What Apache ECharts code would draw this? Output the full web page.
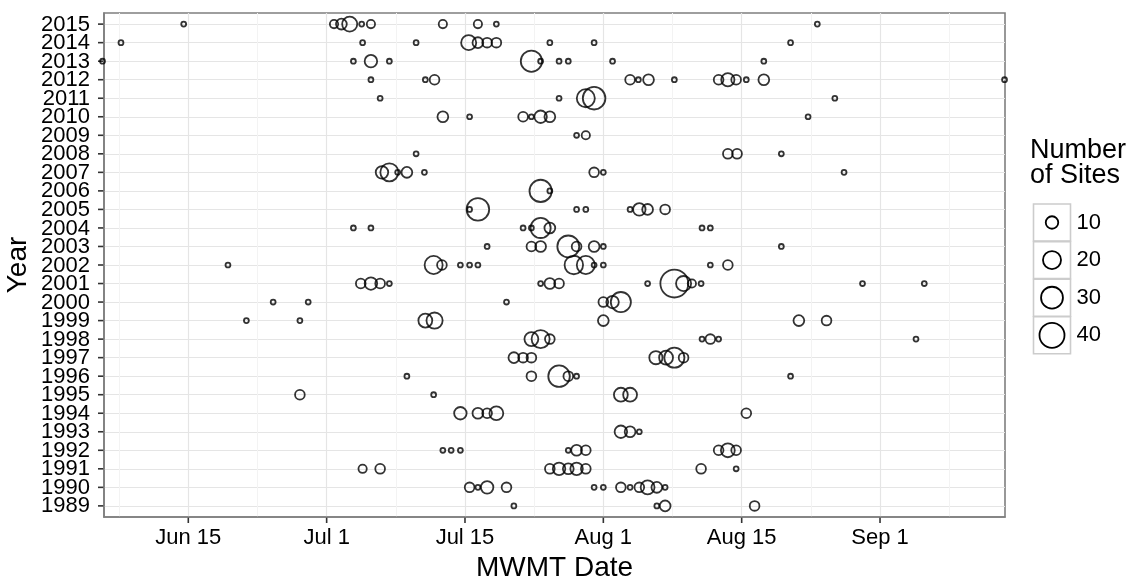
<!DOCTYPE html>
<html><head><meta charset="utf-8">
<script src="https://cdn.jsdelivr.net/npm/echarts@6/dist/echarts.min.js"></script>
<style>html,body{margin:0;padding:0;background:#fff}#c{width:1128px;height:582px}</style>
</head><body><div id="c"></div>
<script>
// ---- data ----
const years = [1989,1990,1991,1992,1993,1994,1995,1996,1997,1998,1999,2000,2001,2002,2003,2004,2005,2006,2007,2008,2009,2010,2011,2012,2013,2014,2015];
const xTickValues = [165,180,195,210,225,240];
const xTickLabels = ['Jun 15','Jul 1','Jul 15','Aug 1','Aug 15','Sep 1'];
const xMinorValues = [157.5,172.5,187.5,202.5,217.5,232.5,247.5];
const legendSites = [10,20,30,40];
// each entry: [MWMT day, number of sites]
const y1989 = [[200.3,5],[215.8,5],[216.7,8],[226.4,7]];
const y1990 = [[195.5,7],[196.4,5],[197.4,10],[199.5,7],[209.0,5],[210.0,5],[211.9,7],[212.9,5],[213.9,7],[214.8,12],[215.8,8],[216.7,5]];
const y1991 = [[183.9,6],[185.8,7],[204.2,7],[205.2,10],[206.2,8],[207.1,10],[208.1,7],[220.6,7],[224.4,5]];
const y1992 = [[192.6,5],[193.5,5],[194.5,5],[206.2,5],[207.1,8],[208.1,7],[222.5,7],[223.5,12],[224.4,7]];
const y1993 = [[211.9,10],[212.9,8],[213.9,5]];
const y1994 = [[194.5,10],[196.4,8],[197.4,7],[198.4,12],[225.5,7]];
const y1995 = [[177.1,7],[191.6,5],[211.9,12],[212.9,12]];
const y1996 = [[188.7,5],[202.2,7],[205.2,29],[206.2,7],[207.1,5],[230.3,5]];
const y1997 = [[200.3,8],[201.3,7],[202.2,7],[215.7,11],[216.8,12],[217.7,25],[218.7,7]];
const y1998 = [[202.2,12],[203.2,20],[204.2,7],[220.7,5],[221.6,7],[222.5,5],[243.9,5]];
const y1999 = [[171.3,5],[177.1,5],[190.7,12],[191.7,16],[210.0,8],[231.2,8],[234.2,7]];
const y2000 = [[174.2,5],[178.0,5],[199.5,5],[210.0,7],[211.0,10],[211.9,25]];
const y2001 = [[183.7,7],[184.8,10],[185.8,7],[186.8,5],[203.2,5],[204.2,8],[205.2,7],[214.8,5],[217.7,51],[218.7,14],[219.6,6],[220.6,5],[238.1,5],[244.8,5]];
const y2002 = [[169.3,5],[191.6,20],[192.5,7],[194.5,5],[195.5,5],[196.4,5],[206.8,21],[208.1,20],[209.0,5],[210.0,5],[221.6,5],[223.5,7]];
const y2003 = [[197.4,5],[202.2,7],[203.2,8],[206.2,30],[207.1,7],[209.0,8],[210.0,5],[229.3,5]];
const y2004 = [[182.9,5],[184.8,5],[201.3,5],[202.2,5],[203.2,25],[204.2,8],[220.7,5],[221.6,5]];
const y2005 = [[195.5,5],[196.4,32],[207.1,5],[208.1,5],[212.9,5],[213.9,10],[214.8,8],[216.7,7]];
const y2006 = [[203.2,31],[204.2,5]];
const y2007 = [[186.0,10],[186.8,20],[187.7,5],[188.7,8],[190.6,5],[209.0,7],[210.0,5],[236.1,5]];
const y2008 = [[189.7,5],[223.5,7],[224.5,7],[229.3,5]];
const y2009 = [[207.1,5],[208.1,6]];
const y2010 = [[192.6,8],[195.5,5],[201.3,7],[202.2,5],[203.2,10],[204.2,8],[232.2,5]];
const y2011 = [[185.8,5],[205.2,5],[208.1,20],[209.0,32],[235.1,5]];
const y2012 = [[184.8,5],[190.7,5],[191.7,7],[212.9,7],[213.8,5],[214.9,8],[217.7,5],[222.5,7],[223.5,11],[224.4,7],[225.5,5],[227.4,8],[253.5,5]];
const y2013 = [[155.7,5],[182.9,5],[184.8,10],[186.8,5],[202.2,28],[203.2,5],[205.2,5],[206.2,5],[211.0,5],[227.4,5]];
const y2014 = [[157.7,5],[183.9,5],[189.7,5],[195.4,14],[196.4,8],[197.4,7],[198.4,7],[204.2,5],[209.0,5],[230.3,5]];
const y2015 = [[164.5,5],[180.8,6],[181.6,8],[182.5,14],[183.8,5],[184.8,6],[192.6,6],[196.4,6],[198.4,5],[233.2,5]];
const yearRows = [y1989,y1990,y1991,y1992,y1993,y1994,y1995,y1996,y1997,y1998,y1999,y2000,y2001,y2002,y2003,y2004,y2005,y2006,y2007,y2008,y2009,y2010,y2011,y2012,y2013,y2014,y2015];

// ---- size scale (ggplot-like area scale) ----
const SITES_MIN = 5, SITES_MAX = 52, D_MIN = 6.7, D_RANGE = 23.3, BW = 1.8;
function outerDiameter(n){ return D_MIN + D_RANGE*Math.sqrt(Math.max(0, n - SITES_MIN)/(SITES_MAX - SITES_MIN)); }

const points = [];
yearRows.forEach((row, i) => row.forEach(p => points.push([p[0], years[i], p[1]])));

const FONT = '"Liberation Sans", Arial, Helvetica, sans-serif';
const chart = echarts.init(document.getElementById('c'), null, {renderer: 'canvas'});

// legend
const lgX = 1033.5, lgTop = 204, lgStep = 37.6, lgBox = 37;
const graphics = [{
  type: 'text', x: 1030, y: 138,
  style: {text: 'Number\nof Sites', font: '27px ' + FONT, fill: '#000', lineHeight: 25, verticalAlign: 'top'}
}];
legendSites.forEach((n, i) => {
  const top = lgTop + i*lgStep;
  graphics.push({type: 'rect', shape: {x: lgX, y: top, width: lgBox, height: lgBox},
    style: {fill: '#fff', stroke: '#cccccc', lineWidth: 1.6}});
  graphics.push({type: 'circle', shape: {cx: lgX + lgBox/2, cy: top + lgBox/2, r: (outerDiameter(n) - BW)/2},
    style: {fill: 'none', stroke: '#000', lineWidth: BW}});
  graphics.push({type: 'text', x: lgX + lgBox + 6, y: top + lgBox/2,
    style: {text: String(n), font: '22px ' + FONT, fill: '#000', verticalAlign: 'middle'}});
});

const axisLineStyle = {show: true, lineStyle: {color: '#7f7f7f', width: 1.6}};

chart.setOption({
  animation: false,
  backgroundColor: '#fff',
  grid: {left: 104, right: 123, top: 13, bottom: 65, containLabel: false, outerBoundsMode: 'none',
    show: true, borderColor: '#7f7f7f', borderWidth: 1.6, backgroundColor: '#fff'},
  xAxis: [{
    type: 'value', min: 155.86, max: 253.55,
    name: 'MWMT Date', nameLocation: 'middle', nameGap: 37, nameMoveOverlap: false,
    nameTextStyle: {fontSize: 28, color: '#000', fontFamily: FONT},
    axisLine: axisLineStyle,
    axisTick: {show: false, customValues: xTickValues},
    axisLabel: {customValues: xTickValues, margin: 10, fontSize: 22, lineHeight: 22, color: '#000', fontFamily: FONT,
      showMinLabel: true, showMaxLabel: true, hideOverlap: false,
      formatter: v => xTickLabels[xTickValues.indexOf(Math.round(v))] || ''},
    splitLine: {show: true, lineStyle: {color: '#e5e5e5', width: 1.2}}
  }, {
    type: 'value', min: 155.86, max: 253.55, position: 'bottom',
    axisLine: {show: false}, axisLabel: {show: false},
    axisTick: {show: false, customValues: xMinorValues},
    splitLine: {show: true, lineStyle: {color: '#f3f3f3', width: 1}}
  }],
  yAxis: {
    type: 'value', min: 1988.4, max: 2015.6,
    name: 'Year', nameLocation: 'middle', nameGap: 72, nameRotate: 90, nameMoveOverlap: false,
    nameTextStyle: {fontSize: 28, color: '#000', fontFamily: FONT},
    axisLine: axisLineStyle,
    axisTick: {show: false, customValues: years},
    axisLabel: {show: false},
    splitLine: {show: true, lineStyle: {color: '#e5e5e5', width: 1.2}}
  },
  series: [{
    type: 'scatter', xAxisIndex: 0, yAxisIndex: 0, clip: false, z: 5,
    data: points,
    symbol: 'circle',
    symbolSize: v => outerDiameter(v[2]) - BW,
    itemStyle: {color: 'rgba(0,0,0,0)', borderColor: '#000', borderWidth: BW},
    emphasis: {disabled: true}, silent: true
  }],
  graphic: graphics
});

// axis tick marks and year labels placed through the axes' own scales
const TICK_LEN = 6, tickStyle = {stroke: '#333', lineWidth: 1.6};
const rect = chart.getModel().getComponent('grid', 0).coordinateSystem.getRect();
const extra = [];
xTickValues.forEach(v => {
  const px = chart.convertToPixel({xAxisIndex: 0}, v);
  extra.push({type: 'line', silent: true, shape: {x1: px, y1: rect.y + rect.height, x2: px, y2: rect.y + rect.height + TICK_LEN}, style: tickStyle});
});
years.forEach(v => {
  const py = chart.convertToPixel({yAxisIndex: 0}, v);
  extra.push({type: 'line', silent: true, shape: {x1: rect.x - TICK_LEN, y1: py, x2: rect.x, y2: py}, style: tickStyle});
  extra.push({type: 'text', silent: true, x: rect.x - 14, y: py + 0.5,
    style: {text: String(v), font: '22px ' + FONT, fill: '#000', align: 'right', verticalAlign: 'middle'}});
});
chart.setOption({graphic: graphics.concat(extra)});
</script></body></html>
